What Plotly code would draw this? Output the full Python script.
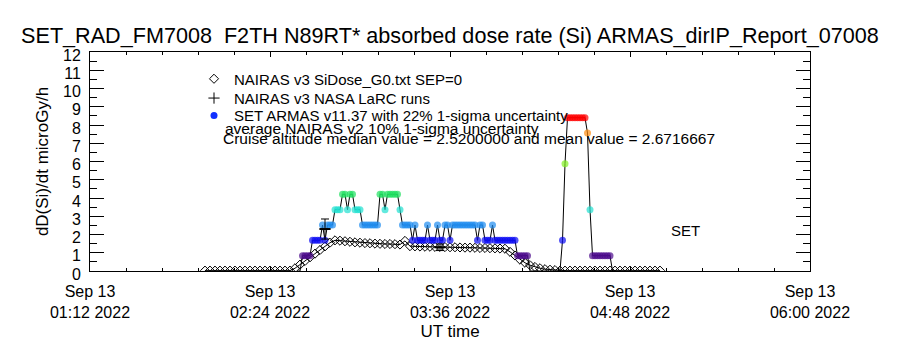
import plotly.graph_objects as go
import pandas as pd

# ---------------- data ----------------
# NAIRAS v3 model (2-minute cadence starting 01:58 UT)
model_start = "2022-09-13 01:58"
model_dose = [
    0.02, 0.02, 0.02, 0.02, 0.02, 0.02, 0.02, 0.02, 0.02, 0.02,
    0.02, 0.02, 0.02, 0.02, 0.02, 0.02, 0.02, 0.02,
    0.15, 0.35, 0.55, 0.75, 0.95, 1.15, 1.35, 1.55, 1.68, 1.66,
    1.63, 1.60, 1.57, 1.55, 1.53, 1.52, 1.50, 1.49, 1.48, 1.48,
    1.47, 1.45, 1.65, 1.36, 1.35, 1.34, 1.33, 1.33, 1.32, 1.32,
    1.31, 1.30, 1.30, 1.29, 1.28, 1.28, 1.27, 1.26, 1.26, 1.25,
    1.24, 1.23, 1.22, 1.05, 0.85, 0.62, 0.45, 0.32, 0.22, 0.15,
    0.10, 0.07, 0.05, 0.02, 0.02, 0.02, 0.02, 0.02, 0.02, 0.02,
    0.02, 0.02, 0.02, 0.02, 0.02, 0.02, 0.02, 0.02, 0.02, 0.02,
    0.02, 0.02, 0.02, 0.02,
]

# SET ARMAS measurements (1-minute cadence starting 02:35 UT)
armas_start = "2022-09-13 02:35"
armas_dose = [
    0, 0, 0.84, 0.84, 0.84, 0.84, 1.68, 1.68, 1.68, 1.68,
    2.52, 1.68, 2.52, 2.52, 2.52, 3.36, 3.36, 3.36, 4.2, 4.2,
    3.36, 4.2, 4.2, 3.36, 3.36, 3.36, 2.52, 2.52, 2.52, 2.52,
    2.52, 2.52, 2.52, 4.2, 4.2, 3.36, 4.2, 4.2, 4.2, 4.2,
    4.2, 3.36, 2.52, 2.52, 2.52, 2.52, 1.68, 2.52, 1.68, 1.68,
    1.68, 1.68, 2.52, 1.68, 1.68, 1.68, 2.52, 1.68, 1.68, 2.52,
    2.52, 1.68, 2.52, 2.52, 2.52, 2.52, 2.52, 2.52, 2.52, 2.52,
    2.52, 2.52, 1.68, 2.52, 2.52, 1.68, 1.68, 1.68, 2.52, 1.68,
    1.68, 1.68, 1.68, 1.68, 1.68, 1.68, 1.68, 1.68, 0.84, 0.84,
    0.84, 0.84, 0.84, 0, 0, 0, 0, 0, 0, 0,
    0, 0, 0, 0, 0, 0, 1.68, 5.88, 8.4, 8.4,
    8.4, 8.4, 8.4, 8.4, 8.4, 8.4, 7.56, 3.36, 0.84, 0.84,
    0.84, 0.84, 0.84, 0.84, 0.84, 0.84, 0, 0,
]

# NAIRAS v3 NASA LaRC runs
larc_times = ["2022-09-13 02:46", "2022-09-13 03:32"]
larc_dose = [2.30, 1.30]
larc_err = [0.55, 0.18]

# colour used for each quantised ARMAS dose level
level_colors = {
    0.0: "#000000", 0.84: "#4b0a8c", 1.68: "#0c0cf4", 2.52: "#1e8cf0",
    3.36: "#20e0d0", 4.2: "#20e060", 5.88: "#80f020", 7.56: "#ff8c10",
    8.4: "#ff0000",
}

title_text = "SET_RAD_FM7008  F2TH N89RT* absorbed dose rate (Si) ARMAS_dirIP_Report_07008"
legend_names = [
    "NAIRAS v3 SiDose_G0.txt SEP=0",
    "NAIRAS v3 NASA LaRC runs",
    "SET ARMAS v11.37 with 22% 1-sigma uncertainty",
]
note1 = "average NAIRAS v2 10% 1-sigma uncertainty"
note2 = "Cruise altitude median value = 2.5200000 and mean value = 2.6716667"

# ---------------- figure ----------------
model_t = pd.date_range(model_start, periods=len(model_dose), freq="2min")
armas_t = pd.date_range(armas_start, periods=len(armas_dose), freq="1min")

FONT = "Liberation Sans, Arial"
L, R, T, B = 90, 810, 52, 279   # plot box in pixels


def px(x):
    return (x - L) / (R - L)


def py(y):
    return (B - y) / (B - T)


fig = go.Figure()

fig.add_trace(go.Scatter(
    x=model_t, y=model_dose, mode="lines+markers",
    line=dict(color="black", width=1),
    marker=dict(symbol="diamond-open", size=7, color="black", line=dict(width=1)),
    showlegend=False,
))

fig.add_trace(go.Scatter(
    x=armas_t, y=armas_dose, mode="lines+markers",
    line=dict(color="black", width=1),
    marker=dict(symbol="circle", size=[0 if v == 0 else 7 for v in armas_dose],
                color=[level_colors[v] for v in armas_dose], line=dict(width=0)),
    showlegend=False,
))

fig.add_trace(go.Scatter(
    x=pd.to_datetime(larc_times), y=larc_dose, mode="markers",
    marker=dict(symbol="line-ew", size=8, color="black", line=dict(width=2, color="black")),
    error_y=dict(type="data", array=larc_err, color="black", thickness=1, width=4),
    showlegend=False,
))

# legend entries (one legend box per entry so the rows can sit where the reference has them)
fig.add_trace(go.Scatter(x=[None], y=[None], mode="markers", name=legend_names[0], legend="legend",
                         marker=dict(symbol="diamond-open", size=7, color="black")))
fig.add_trace(go.Scatter(x=[None], y=[None], mode="markers", name=legend_names[1], legend="legend2",
                         marker=dict(symbol="cross-thin-open", size=8, color="black",
                                     line=dict(width=1, color="black"))))
fig.add_trace(go.Scatter(x=[None], y=[None], mode="markers", name=legend_names[2], legend="legend3",
                         marker=dict(symbol="circle", size=7, color="#1030ff")))

fig.add_annotation(text=note1, xref="paper", yref="paper", x=px(223), y=py(131),
                   xanchor="left", yanchor="middle", showarrow=False, font=dict(size=15.5))
fig.add_annotation(text=note2, xref="paper", yref="paper", x=px(221), y=py(142),
                   xanchor="left", yanchor="middle", showarrow=False, font=dict(size=15.5))
fig.add_annotation(text="SET", xref="paper", yref="paper", x=px(669), y=py(237),
                   xanchor="left", yanchor="middle", showarrow=False, font=dict(size=15))

leg_common = dict(xanchor="left", yanchor="middle", bgcolor="rgba(0,0,0,0)",
                  font=dict(size=15), itemwidth=30)

fig.update_layout(
    width=900, height=350,
    margin=dict(l=L, r=900 - R, t=T, b=350 - B),
    paper_bgcolor="white", plot_bgcolor="white",
    font=dict(family=FONT, color="black", size=15),
    title=dict(text=title_text, x=0.5, xanchor="center", y=1 - 35 / 350, yanchor="middle",
               font=dict(size=21.6)),
    legend=dict(x=px(194), y=py(80), **leg_common),
    legend2=dict(x=px(194), y=py(100), **leg_common),
    legend3=dict(x=px(194), y=py(118), **leg_common),
    showlegend=True,
)

fig.update_xaxes(
    type="date",
    range=["2022-09-13 01:12", "2022-09-13 06:00"],
    tick0="2022-09-13 01:12", dtick=72 * 60 * 1000,
    tickformat="%b %d<br>%H:%M %Y",
    ticks="inside", ticklen=5, tickcolor="black",
    minor=dict(ticks="inside", ticklen=3, dtick=14.4 * 60 * 1000, tickcolor="black"),
    showline=True, linecolor="black", linewidth=1, mirror="allticks",
    showgrid=False, zeroline=False,
    title=dict(text="UT time", standoff=5, font=dict(size=17)),
    tickfont=dict(size=16), ticklabelstandoff=6,
)
fig.update_yaxes(
    range=[0, 12], dtick=1, tick0=0,
    ticks="inside", ticklen=14, tickcolor="black",
    minor=dict(ticks="inside", ticklen=7, dtick=0.5, tickcolor="black"),
    showline=True, linecolor="black", linewidth=1, mirror="allticks",
    showgrid=False, zeroline=False,
    title=dict(text="dD(Si)/dt microGy/h", standoff=10, font=dict(size=17)),
    tickfont=dict(size=16), ticklabelstandoff=5, ticklabelshift=3,
)

fig.write_html("out.html")
